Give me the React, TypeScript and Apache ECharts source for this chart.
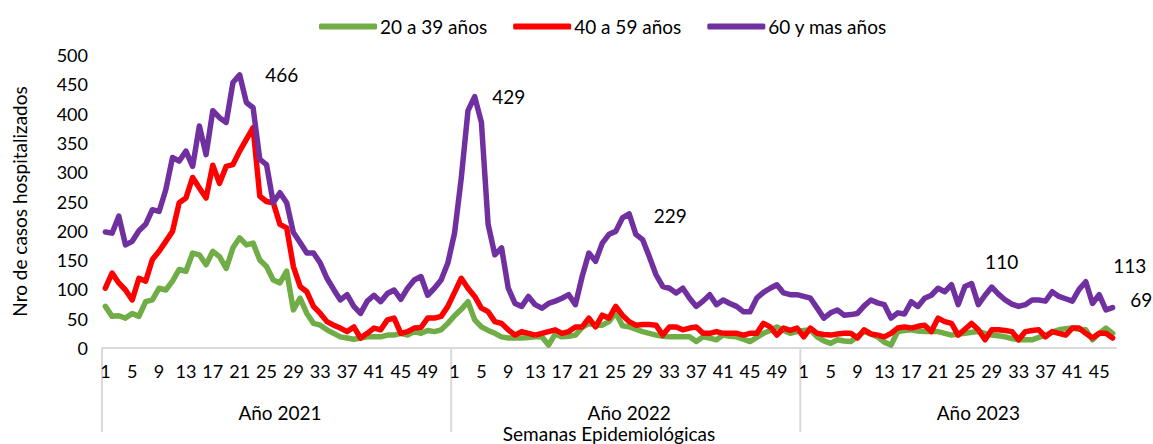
import React, { useEffect, useRef } from 'react';
import * as echarts from 'echarts';

const years = ['Año 2021', 'Año 2022', 'Año 2023'];
const weeksPerYear = [52, 52, 47];
const seriesNames = ['20 a 39 años', '40 a 59 años', '60 y mas años'];
const colors = ['#70AD47', '#FF0000', '#7030A0'];
const yTicks = [0, 50, 100, 150, 200, 250, 300, 350, 400, 450, 500];

const green2021 = [71, 54, 55, 51, 59, 54, 79, 82, 102, 99, 114, 134, 131, 162, 159, 142, 165, 156, 136, 171, 188, 176, 179, 150, 139, 116, 111, 131, 65, 85, 59, 42, 39, 31, 25, 19, 17, 15, 17, 19, 19, 19, 22, 22, 25, 22, 28, 25, 30, 28, 31, 42];
const green2022 = [55, 66, 79, 48, 36, 30, 25, 19, 17, 17, 17, 18, 19, 19, 5, 24, 19, 20, 22, 35, 42, 39, 39, 45, 60, 38, 36, 32, 28, 25, 22, 20, 19, 19, 19, 19, 11, 19, 17, 14, 22, 20, 19, 15, 11, 18, 25, 30, 36, 30, 25, 28];
const green2023 = [30, 31, 19, 12, 8, 14, 12, 11, 20, 28, 24, 19, 10, 5, 28, 30, 31, 29, 28, 28, 28, 25, 22, 24, 25, 27, 28, 25, 22, 21, 19, 16, 14, 14, 14, 18, 22, 27, 31, 33, 34, 32, 31, 14, 25, 34, 25];

const red2021 = [102, 128, 111, 99, 82, 119, 114, 151, 165, 182, 199, 248, 256, 291, 273, 256, 312, 281, 310, 313, 336, 356, 376, 259, 250, 248, 211, 205, 139, 105, 96, 71, 59, 45, 39, 34, 28, 36, 17, 25, 34, 31, 48, 51, 25, 28, 34, 35, 51, 51, 54, 71];
const red2022 = [95, 119, 102, 88, 68, 62, 45, 42, 31, 22, 28, 25, 22, 25, 28, 31, 25, 28, 36, 36, 51, 36, 56, 51, 71, 56, 45, 39, 40, 40, 39, 22, 36, 36, 31, 34, 36, 25, 25, 28, 25, 25, 25, 22, 25, 25, 42, 36, 22, 34, 30, 34];
const red2023 = [19, 34, 25, 23, 22, 24, 25, 25, 17, 31, 24, 22, 19, 25, 34, 36, 34, 37, 39, 28, 51, 45, 42, 22, 32, 42, 31, 14, 31, 31, 30, 28, 14, 28, 30, 31, 19, 28, 25, 22, 34, 34, 25, 17, 25, 25, 17];

const purple2021 = [198, 196, 225, 176, 182, 200, 211, 236, 233, 270, 325, 319, 336, 310, 379, 330, 405, 393, 385, 453, 466, 419, 410, 322, 313, 248, 265, 248, 197, 180, 162, 162, 145, 119, 100, 82, 91, 71, 59, 80, 90, 79, 93, 99, 83, 102, 116, 122, 90, 102, 116, 145];
const purple2022 = [196, 290, 405, 429, 385, 211, 159, 171, 102, 76, 71, 88, 74, 68, 76, 80, 85, 91, 74, 122, 162, 148, 179, 194, 199, 222, 229, 194, 185, 156, 125, 105, 102, 94, 102, 85, 71, 80, 91, 74, 82, 76, 71, 62, 62, 85, 95, 102, 108, 94, 91, 91];
const purple2023 = [88, 85, 68, 51, 60, 65, 56, 57, 59, 72, 82, 77, 74, 51, 60, 58, 79, 71, 85, 90, 102, 96, 108, 74, 105, 110, 74, 90, 104, 92, 82, 75, 71, 74, 82, 82, 80, 96, 88, 84, 80, 100, 113, 76, 91, 65, 69];

// labelled points of the "60 y mas años" series: [year index, week]
const labelledWeeks = [[0, 21], [1, 4], [1, 27], [2, 26], [2, 43], [2, 47]];
const labelOffsets = [[20, 0], [12, 0], [19, 2], [8, -22], [22, -16], [12, -8]];

const FONT = 'Lato';

export default function App() {
  const ref = useRef<HTMLDivElement>(null);
  useEffect(() => {
    if (!ref.current) return;
    const chart = echarts.init(ref.current, null, { renderer: 'svg' });

    const weekCats: string[] = [];
    const yearCats: string[] = [];
    const yearStart: number[] = [];
    weeksPerYear.forEach((n, y) => {
      yearStart.push(weekCats.length);
      for (let w = 1; w <= n; w++) {
        weekCats.push(String(w));
        yearCats.push(years[y]);
      }
    });
    const yearMid = yearStart.map((s) => s + 26);

    const green = [...green2021, ...green2022, ...green2023];
    const red = [...red2021, ...red2022, ...red2023];
    const purpleRaw = [...purple2021, ...purple2022, ...purple2023];
    const labelIdx = labelledWeeks.map(([y, w]) => yearStart[y] + w - 1);
    const purple = purpleRaw.map((v, i) => {
      const k = labelIdx.indexOf(i);
      if (k < 0) return v;
      return {
        value: v,
        label: {
          show: true,
          position: 'right',
          offset: labelOffsets[k],
          fontFamily: FONT,
          fontSize: 19,
          color: '#000',
          formatter: '{c}',
        },
      };
    });

    const mk = (name: string, data: any[], color: string) => ({
      name,
      type: 'line',
      data,
      symbol: 'circle',
      symbolSize: 1,
      showSymbol: true,
      showAllSymbol: true,
      color,
      itemStyle: { color },
      lineStyle: { width: 5.5, color, cap: 'round', join: 'round' },
      label: { show: false },
      emphasis: { disabled: true },
    });

    chart.setOption({
      animation: false,
      textStyle: { fontFamily: FONT },
      legend: {
        top: 12,
        left: 314,
        icon: 'roundRect',
        itemWidth: 58,
        itemHeight: 6,
        itemGap: 26,
        textStyle: { fontFamily: FONT, fontSize: 19, color: '#000', padding: [0, 0, 0, -2] },
        data: seriesNames,
      },
      grid: { left: 102, right: 37, top: 55, bottom: 96, containLabel: false, outerBoundsMode: 'none' },
      xAxis: [
        {
          type: 'category',
          data: weekCats,
          boundaryGap: true,
          axisLine: { show: true, lineStyle: { color: '#d9d9d9', width: 2 } },
          axisTick: { show: false },
          axisLabel: {
            interval: 3,
            fontFamily: FONT,
            fontSize: 18,
            color: '#000',
            margin: 14,
          },
          splitLine: { show: false },
        },
        {
          type: 'category',
          data: yearCats,
          position: 'bottom',
          boundaryGap: true,
          axisLine: { show: false },
          axisTick: { show: false },
          axisLabel: {
            interval: (i: number) => yearMid.includes(i),
            fontFamily: FONT,
            fontSize: 19,
            lineHeight: 19,
            color: '#000',
            margin: 55,
          },
          name: 'Semanas Epidemiológicas',
          nameLocation: 'middle',
          nameGap: 76,
          nameMoveOverlap: false,
          nameTextStyle: { fontFamily: FONT, fontSize: 19, lineHeight: 19, color: '#000', verticalAlign: 'top' },
          splitLine: { show: false },
        },
      ],
      yAxis: {
        type: 'value',
        min: yTicks[0],
        max: yTicks[yTicks.length - 1],
        interval: yTicks[1] - yTicks[0],
        axisLine: { show: false },
        axisTick: { show: false },
        splitLine: { show: false },
        axisLabel: { fontFamily: FONT, fontSize: 18, color: '#000', margin: 14 },
        name: 'Nro de casos hospitalizados',
        nameLocation: 'middle',
        nameGap: 73,
        nameMoveOverlap: false,
        nameTextStyle: { fontFamily: FONT, fontSize: 19, color: '#000' },
      },
      series: [
        mk(seriesNames[0], green, colors[0]),
        mk(seriesNames[1], red, colors[1]),
        mk(seriesNames[2], purple, colors[2]),
      ],
    });

    // year separators below the axis, at category band boundaries
    const x0 = chart.convertToPixel({ xAxisIndex: 0 }, 0) as number;
    const x1 = chart.convertToPixel({ xAxisIndex: 0 }, 1) as number;
    const band = x1 - x0;
    const yAxisPix = chart.convertToPixel({ yAxisIndex: 0 }, 0) as number;
    const seps = yearStart.map((s) => {
      const x = (chart.convertToPixel({ xAxisIndex: 0 }, s) as number) - band / 2;
      return {
        type: 'line',
        shape: { x1: x, y1: yAxisPix, x2: x, y2: yAxisPix + 84 },
        style: { stroke: '#d9d9d9', lineWidth: 2 },
        silent: true,
      };
    });
    chart.setOption({ graphic: seps });

    return () => chart.dispose();
  }, []);

  return (
    <div
      ref={ref}
      style={{ position: 'fixed', left: 0, top: 0, width: 1153, height: 444, background: '#fff' }}
    />
  );
}
